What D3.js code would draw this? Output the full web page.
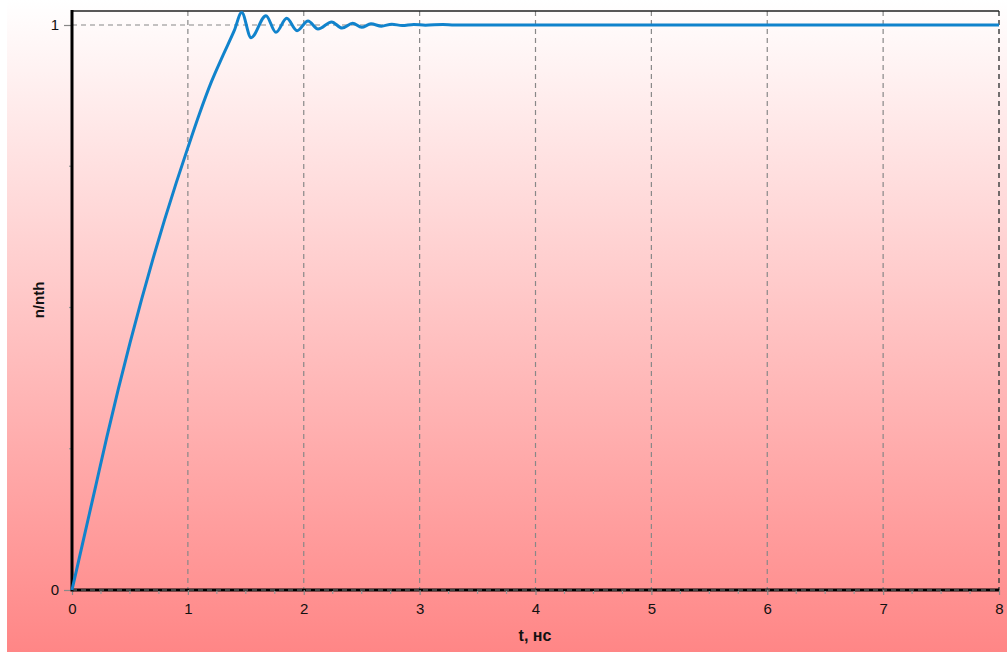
<!DOCTYPE html>
<html><head><meta charset="utf-8">
<script src="https://cdn.jsdelivr.net/npm/d3@7"></script>
<style>body{margin:0;padding:0;background:#fff;}svg{display:block;}</style>
</head><body>
<svg id="c" width="1007" height="652"></svg>
<script>
const tValues = [0, 0.1, 0.2, 0.3, 0.4, 0.5, 0.6, 0.7, 0.8, 0.9, 1.0, 1.1, 1.2, 1.3, 1.4, 1.465,
  1.545, 1.674, 1.76, 1.853, 1.942, 2.037, 2.123, 2.241, 2.33, 2.422, 2.5,
  2.58, 2.67, 2.76, 2.85, 2.95, 3.05, 3.2, 3.3, 8];
const nValues = [0, 0.09, 0.18, 0.27, 0.356, 0.437, 0.514, 0.587, 0.656, 0.721, 0.783, 0.843, 0.898, 0.945, 0.99, 1.022,
  0.9775, 1.0165, 0.987, 1.0118, 0.9899, 1.0071, 0.9929, 1.0053, 0.9947, 1.003, 0.9959,
  1.002, 0.998, 1.0015, 0.999, 1.001, 0.9995, 1.001, 1.0, 1.0];
const xTicks = [0, 1, 2, 3, 4, 5, 6, 7, 8];
const yTicks = [0, 1];
const xMinorTicks = d3.range(0, 8.001, 0.25);
const yMinorTicks = [0.25, 0.5, 0.75];
const xTitle = "t, нс";
const yTitle = "n/nth";

const svg = d3.select("#c");
const W = 1007, H = 652;

const defs = svg.append("defs");
const g = defs.append("linearGradient").attr("id","bg").attr("x1",0).attr("y1",0).attr("x2",0).attr("y2",1);
g.append("stop").attr("offset","0%").attr("stop-color","#ffffff");
g.append("stop").attr("offset","100%").attr("stop-color","#ff8686");
svg.append("rect").attr("x",7).attr("y",0).attr("width",W-7).attr("height",H).attr("fill","url(#bg)");

const x = d3.scaleLinear().domain([0, 8]).range([72, 999]);
const y = d3.scaleLinear().domain([0, 1]).range([590, 25]);

// vertical grid
svg.append("g").selectAll("line").data(xTicks.filter(d => d > 0)).join("line")
  .attr("x1", d => x(d)).attr("x2", d => x(d)).attr("y1", 11).attr("y2", 590)
  .attr("stroke", d => d === 8 ? "#444" : "#888").attr("stroke-width", d => d === 8 ? 1.5 : 1.2)
  .attr("stroke-dasharray", "5,4");
// horizontal grid at 1
svg.append("line").attr("x1", x(0)).attr("x2", x(8)).attr("y1", y(1)).attr("y2", y(1))
  .attr("stroke", "#888").attr("stroke-width", 1.2).attr("stroke-dasharray", "5,4");

// top border
svg.append("line").attr("x1", x(0)).attr("x2", x(8)).attr("y1", 11).attr("y2", 11)
  .attr("stroke", "#222").attr("stroke-width", 1.5);

// bottom axis
svg.append("line").attr("x1", x(0)).attr("x2", x(8)).attr("y1", 590).attr("y2", 590)
  .attr("stroke", "#000").attr("stroke-width", 3);
svg.append("line").attr("x1", x(0)).attr("x2", x(8)).attr("y1", 590).attr("y2", 590)
  .attr("stroke", "#888").attr("stroke-width", 1.2).attr("stroke-dasharray", "5,4");

const xAxis = d3.axisBottom(x).tickValues(xTicks).tickSize(5).tickPadding(8).tickFormat(d3.format("d"));
const xa = svg.append("g").attr("transform", "translate(0,590)").call(xAxis);
xa.select(".domain").remove();
xa.selectAll(".tick line").attr("stroke", "#888").attr("stroke-width", 1.2);
xa.selectAll(".tick text").attr("font-family", "'Liberation Sans', Arial, sans-serif").attr("font-size", 15).attr("fill", "#111");
svg.append("g").selectAll("line").data(xMinorTicks.filter(d => !xTicks.includes(d))).join("line")
  .attr("x1", d => x(d)).attr("x2", d => x(d)).attr("y1", 591).attr("y2", 594)
  .attr("stroke", "#999").attr("stroke-width", 1.2);

// left axis
const yAxis = d3.axisLeft(y).tickValues(yTicks).tickSize(8).tickPadding(5).tickFormat(d3.format("d"));
const ya = svg.append("g").attr("transform", "translate(72,0)").call(yAxis);
ya.select(".domain").remove();
ya.selectAll(".tick line").attr("stroke", "#888").attr("stroke-width", 1.2);
ya.selectAll(".tick text").attr("font-family", "'Liberation Sans', Arial, sans-serif").attr("font-size", 15).attr("fill", "#111");
svg.append("g").selectAll("line").data(yMinorTicks).join("line")
  .attr("x1", 69).attr("x2", 72).attr("y1", d => y(d)).attr("y2", d => y(d))
  .attr("stroke", "#999").attr("stroke-width", 1.2);
svg.append("line").attr("x1", 72).attr("x2", 72).attr("y1", 10).attr("y2", 591.5)
  .attr("stroke", "#000").attr("stroke-width", 3);

// curve
const line = d3.line().x((d, i) => x(tValues[i])).y(d => y(d)).curve(d3.curveMonotoneX);
svg.append("path").datum(nValues).attr("d", line)
  .attr("fill", "none").attr("stroke", "#1183cc").attr("stroke-width", 3).attr("stroke-linejoin","round");

// titles
svg.append("text").attr("x", 535).attr("y", 641).attr("text-anchor", "middle")
  .attr("font-family", "'Liberation Sans Narrow', 'Liberation Sans', Arial, sans-serif").attr("font-weight", "bold").attr("font-size", 16)
  .attr("fill", "#111").text(xTitle);
svg.append("text").attr("transform", "translate(44,300) rotate(-90)").attr("text-anchor", "middle")
  .attr("font-family", "'Liberation Sans Narrow', 'Liberation Sans', Arial, sans-serif").attr("font-weight", "bold").attr("font-size", 15)
  .attr("fill", "#111").text(yTitle);
</script>
</body></html>
